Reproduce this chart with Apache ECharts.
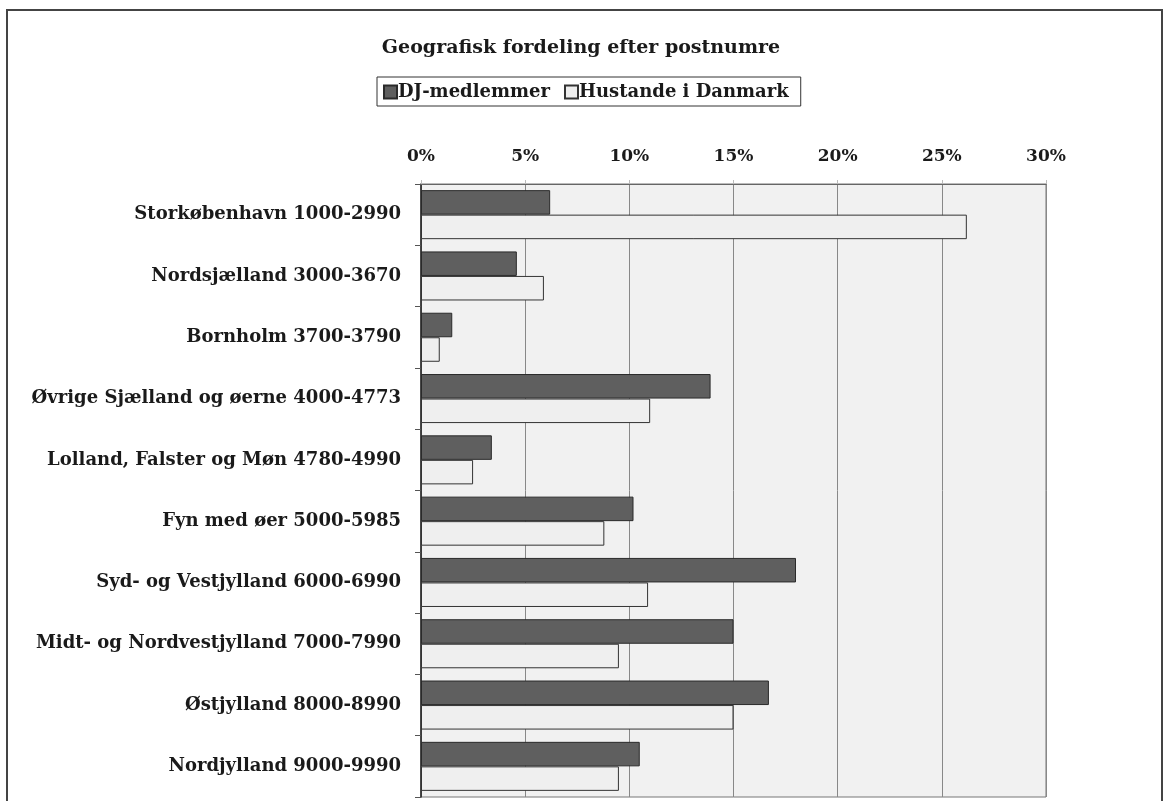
<!DOCTYPE html>
<html>
<head>
<meta charset="utf-8">
<script src="https://cdn.jsdelivr.net/npm/echarts@6/dist/echarts.min.js"></script>
<style>
  html, body { margin: 0; padding: 0; background: #fff; }
  #chart { width: 1170px; height: 801px; }
</style>
</head>
<body>
<div id="chart"></div>
<script>
// Regions (postnummer ranges), top to bottom
const regions = [
  'Storkøbenhavn 1000-2990',
  'Nordsjælland 3000-3670',
  'Bornholm 3700-3790',
  'Øvrige Sjælland og øerne 4000-4773',
  'Lolland, Falster og Møn 4780-4990',
  'Fyn med øer 5000-5985',
  'Syd- og Vestjylland 6000-6990',
  'Midt- og Nordvestjylland 7000-7990',
  'Østjylland 8000-8990',
  'Nordjylland 9000-9990'
]

// Share in percent
const djMembers = [6.2, 4.6, 1.5, 13.9, 3.4, 10.2, 18.0, 15.0, 16.7, 10.5]
const households = [26.2, 5.9, 0.9, 11.0, 2.5, 8.8, 10.9, 9.5, 15.0, 9.5]

const seriesNames = ['DJ-medlemmer', 'Hustande i Danmark']

const serif = '"DejaVu Serif", "Liberation Serif", serif'

const chart = echarts.init(document.getElementById('chart'))

const option = {
  backgroundColor: '#fff',
  animation: false,
  textStyle: { fontFamily: serif },
  title: {
    text: 'Geografisk fordeling efter postnumre',
    left: 576,
    textAlign: 'center',
    top: 34,
    textStyle: {
      fontFamily: serif,
      fontSize: 19,
      fontWeight: 'bold',
      color: '#1a1a1a'
    }
  },
  legend: {
    data: seriesNames,
    left: 377,
    top: 77,
    padding: [6, 12, 5, 6],
    itemGap: 14,
    itemWidth: 13,
    itemHeight: 13,
    icon: 'rect',
    borderColor: '#333',
    borderWidth: 1,
    borderRadius: 0,
    textStyle: {
      fontFamily: serif,
      fontSize: 18,
      fontWeight: 'bold',
      color: '#1a1a1a',
      padding: [0, 0, 0, -4]
    }
  },
  graphic: [
    {
      type: 'rect',
      shape: { x: 7, y: 10, width: 1155, height: 800 },
      style: { fill: 'none', stroke: '#444', lineWidth: 2 },
      silent: true,
      z: 100
    }
  ],
  grid: {
    left: 421,
    top: 184,
    width: 625,
    bottom: 4,
    show: true,
    backgroundColor: '#f1f1f1',
    borderColor: '#777',
    borderWidth: 1
  },
  xAxis: {
    type: 'value',
    position: 'top',
    min: 0,
    max: 30,
    interval: 5,
    axisLine: { show: true, lineStyle: { color: '#666', width: 1 } },
    axisTick: { show: true, length: 4, lineStyle: { color: '#bbb' } },
    splitLine: { show: true, lineStyle: { color: '#888', width: 1 } },
    axisLabel: {
      formatter: '{value}%',
      margin: 19,
      fontFamily: serif,
      fontSize: 17,
      fontWeight: 'bold',
      color: '#1a1a1a'
    }
  },
  yAxis: {
    type: 'category',
    data: regions,
    inverse: true,
    axisLine: { show: true, lineStyle: { color: '#222', width: 1.5 } },
    axisTick: { show: true, length: 6, lineStyle: { color: '#555' } },
    axisLabel: {
      margin: 20,
      fontFamily: serif,
      fontSize: 18,
      fontWeight: 'bold',
      color: '#1a1a1a'
    }
  },
  series: [
    {
      name: seriesNames[0],
      type: 'bar',
      data: djMembers,
      barGap: '0%',
      barCategoryGap: '20%',
      itemStyle: { color: '#5f5f5f', borderColor: '#2a2a2a', borderWidth: 1 }
    },
    {
      name: seriesNames[1],
      type: 'bar',
      data: households,
      barGap: '0%',
      barCategoryGap: '20%',
      itemStyle: { color: '#efefef', borderColor: '#333', borderWidth: 1 }
    }
  ]
}

chart.setOption(option)
</script>
</body>
</html>
